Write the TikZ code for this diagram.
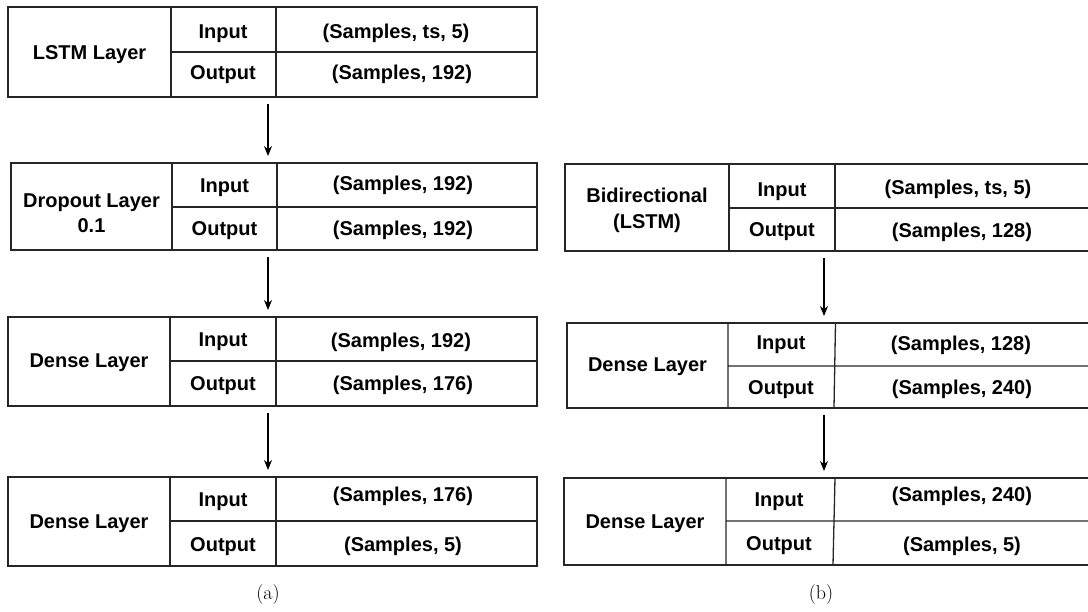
\documentclass[tikz,border=0pt]{standalone}
\usepackage{fontspec}
\newfontfamily\arial{Liberation Sans}
\usetikzlibrary{arrows.meta}
\begin{document}
\begin{tikzpicture}[x=1pt,y=-1pt,
  ln/.style={draw=black!85, line width=1.3pt},
  layerbox/.style={ln, inner sep=0pt, outer sep=0pt, anchor=north west, minimum width=#1},
  txt/.style={font=\arial\bfseries\fontsize{20}{27}\selectfont, inner sep=0pt, anchor=base},
  captext/.style={font=\fontsize{20}{24}\selectfont, inner sep=0pt},
  flow/.style={draw=black, line width=1.1pt, -{Stealth[length=10pt,width=8pt]}, shorten <=7pt, shorten >=7pt}]
\useasboundingbox (0,0) rectangle (1088,612);
\clip (0,0) rectangle (1088,612);

% ---------- (a) ----------
\node[layerbox=529pt, minimum height=90pt] (a1) at (8,7) {};
\draw[ln] (171,7) -- (171,97) (276,7) -- (276,97) (171,52) -- (537,52);
\node[txt] (a1n) at (89.5,60) {LSTM Layer};
\node[txt] (a1i) at (223,39) {Input};
\node[txt] (a1o) at (223,80) {Output};
\node[txt] (a1iv) at (396,39) {(Samples, ts, 5)};
\node[txt] (a1ov) at (402,80) {(Samples, 192)};

\node[layerbox=526pt, minimum height=87pt] (a2) at (11,163) {};
\draw[ln] (172,163) -- (172,250) (277,163) -- (277,250) (172,207) -- (537,207);
\node[txt] (a2n) at (91.5,208) {Dropout Layer};
\node[txt] (a2m) at (91.5,233) {0.1};
\node[txt] (a2i) at (224.5,193) {Input};
\node[txt] (a2o) at (224.5,236) {Output};
\node[txt] (a2iv) at (403,191) {(Samples, 192)};
\node[txt] (a2ov) at (403,236) {(Samples, 192)};

\node[layerbox=529pt, minimum height=89pt] (a3) at (8,317) {};
\draw[ln] (170,317) -- (170,406) (276,317) -- (276,406) (170,361) -- (537,361);
\node[txt] (a3n) at (89,368) {Dense Layer};
\node[txt] (a3i) at (223,347) {Input};
\node[txt] (a3o) at (223,391) {Output};
\node[txt] (a3iv) at (401,348) {(Samples, 192)};
\node[txt] (a3ov) at (403,391) {(Samples, 176)};

\node[layerbox=529pt, minimum height=89pt] (a4) at (8,477) {};
\draw[ln] (170,477) -- (170,566) (276,477) -- (276,566) (170,521) -- (537,521);
\node[txt] (a4n) at (89,528) {Dense Layer};
\node[txt] (a4i) at (223,506) {Input};
\node[txt] (a4o) at (223,551) {Output};
\node[txt] (a4iv) at (403,501) {(Samples, 176)};
\node[txt] (a4ov) at (403,551) {(Samples, 5)};

\draw[flow] ([xshift=-4.5pt]a1.south) -- ([xshift=-4.5pt]a1.south |- a2.north);
\draw[flow] ([xshift=-4.5pt]a1.south |- a2.south) -- ([xshift=-4.5pt]a1.south |- a3.north);
\draw[flow] ([xshift=-4.5pt]a1.south |- a3.south) -- ([xshift=-4.5pt]a1.south |- a4.north);

\node[captext] (capa) at (268,595) {(a)};

% ---------- (b) ----------
\node[layerbox=530pt, minimum height=87pt] (b1) at (565,164) {};
\draw[ln] (729,164) -- (729,251) (835,164) -- (835,251) (729,208) -- (1095,208);
\node[txt] (b1n) at (647,203) {Bidirectional};
\node[txt] (b1m) at (647,229) {(LSTM)};
\node[txt] (b1i) at (782,197) {Input};
\node[txt] (b1o) at (782,237) {Output};
\node[txt] (b1iv) at (958,195) {(Samples, ts, 5)};
\node[txt] (b1ov) at (962,238) {(Samples, 128)};

\node[layerbox=528pt, minimum height=85pt] (b2) at (567,323) {};
\draw[ln] (728,323) -- (728,408) (835.5,323) -- (834,408) (728,366) -- (1095,366);
\node[txt] (b2n) at (647.5,372) {Dense Layer};
\node[txt] (b2i) at (781,350) {Input};
\node[txt] (b2o) at (781,395) {Output};
\node[txt] (b2iv) at (961,351) {(Samples, 128)};
\node[txt] (b2ov) at (962,395) {(Samples, 240)};

\node[layerbox=531pt, minimum height=87pt] (b3) at (564,478) {};
\draw[ln] (726,478) -- (726,565) (835,478) -- (833,565) (726,521) -- (1095,521);
\node[txt] (b3n) at (645,528) {Dense Layer};
\node[txt] (b3i) at (779,507) {Input};
\node[txt] (b3o) at (779,550) {Output};
\node[txt] (b3iv) at (962,501) {(Samples, 240)};
\node[txt] (b3ov) at (962,551) {(Samples, 5)};

\path (824,0) coordinate (bx);
\draw[flow] (bx |- b1.south) -- (bx |- b2.north);
\draw[flow] (bx |- b2.south) -- (bx |- b3.north);

\node[captext] (capb) at (821,595) {(b)};
\end{tikzpicture}
\end{document}
